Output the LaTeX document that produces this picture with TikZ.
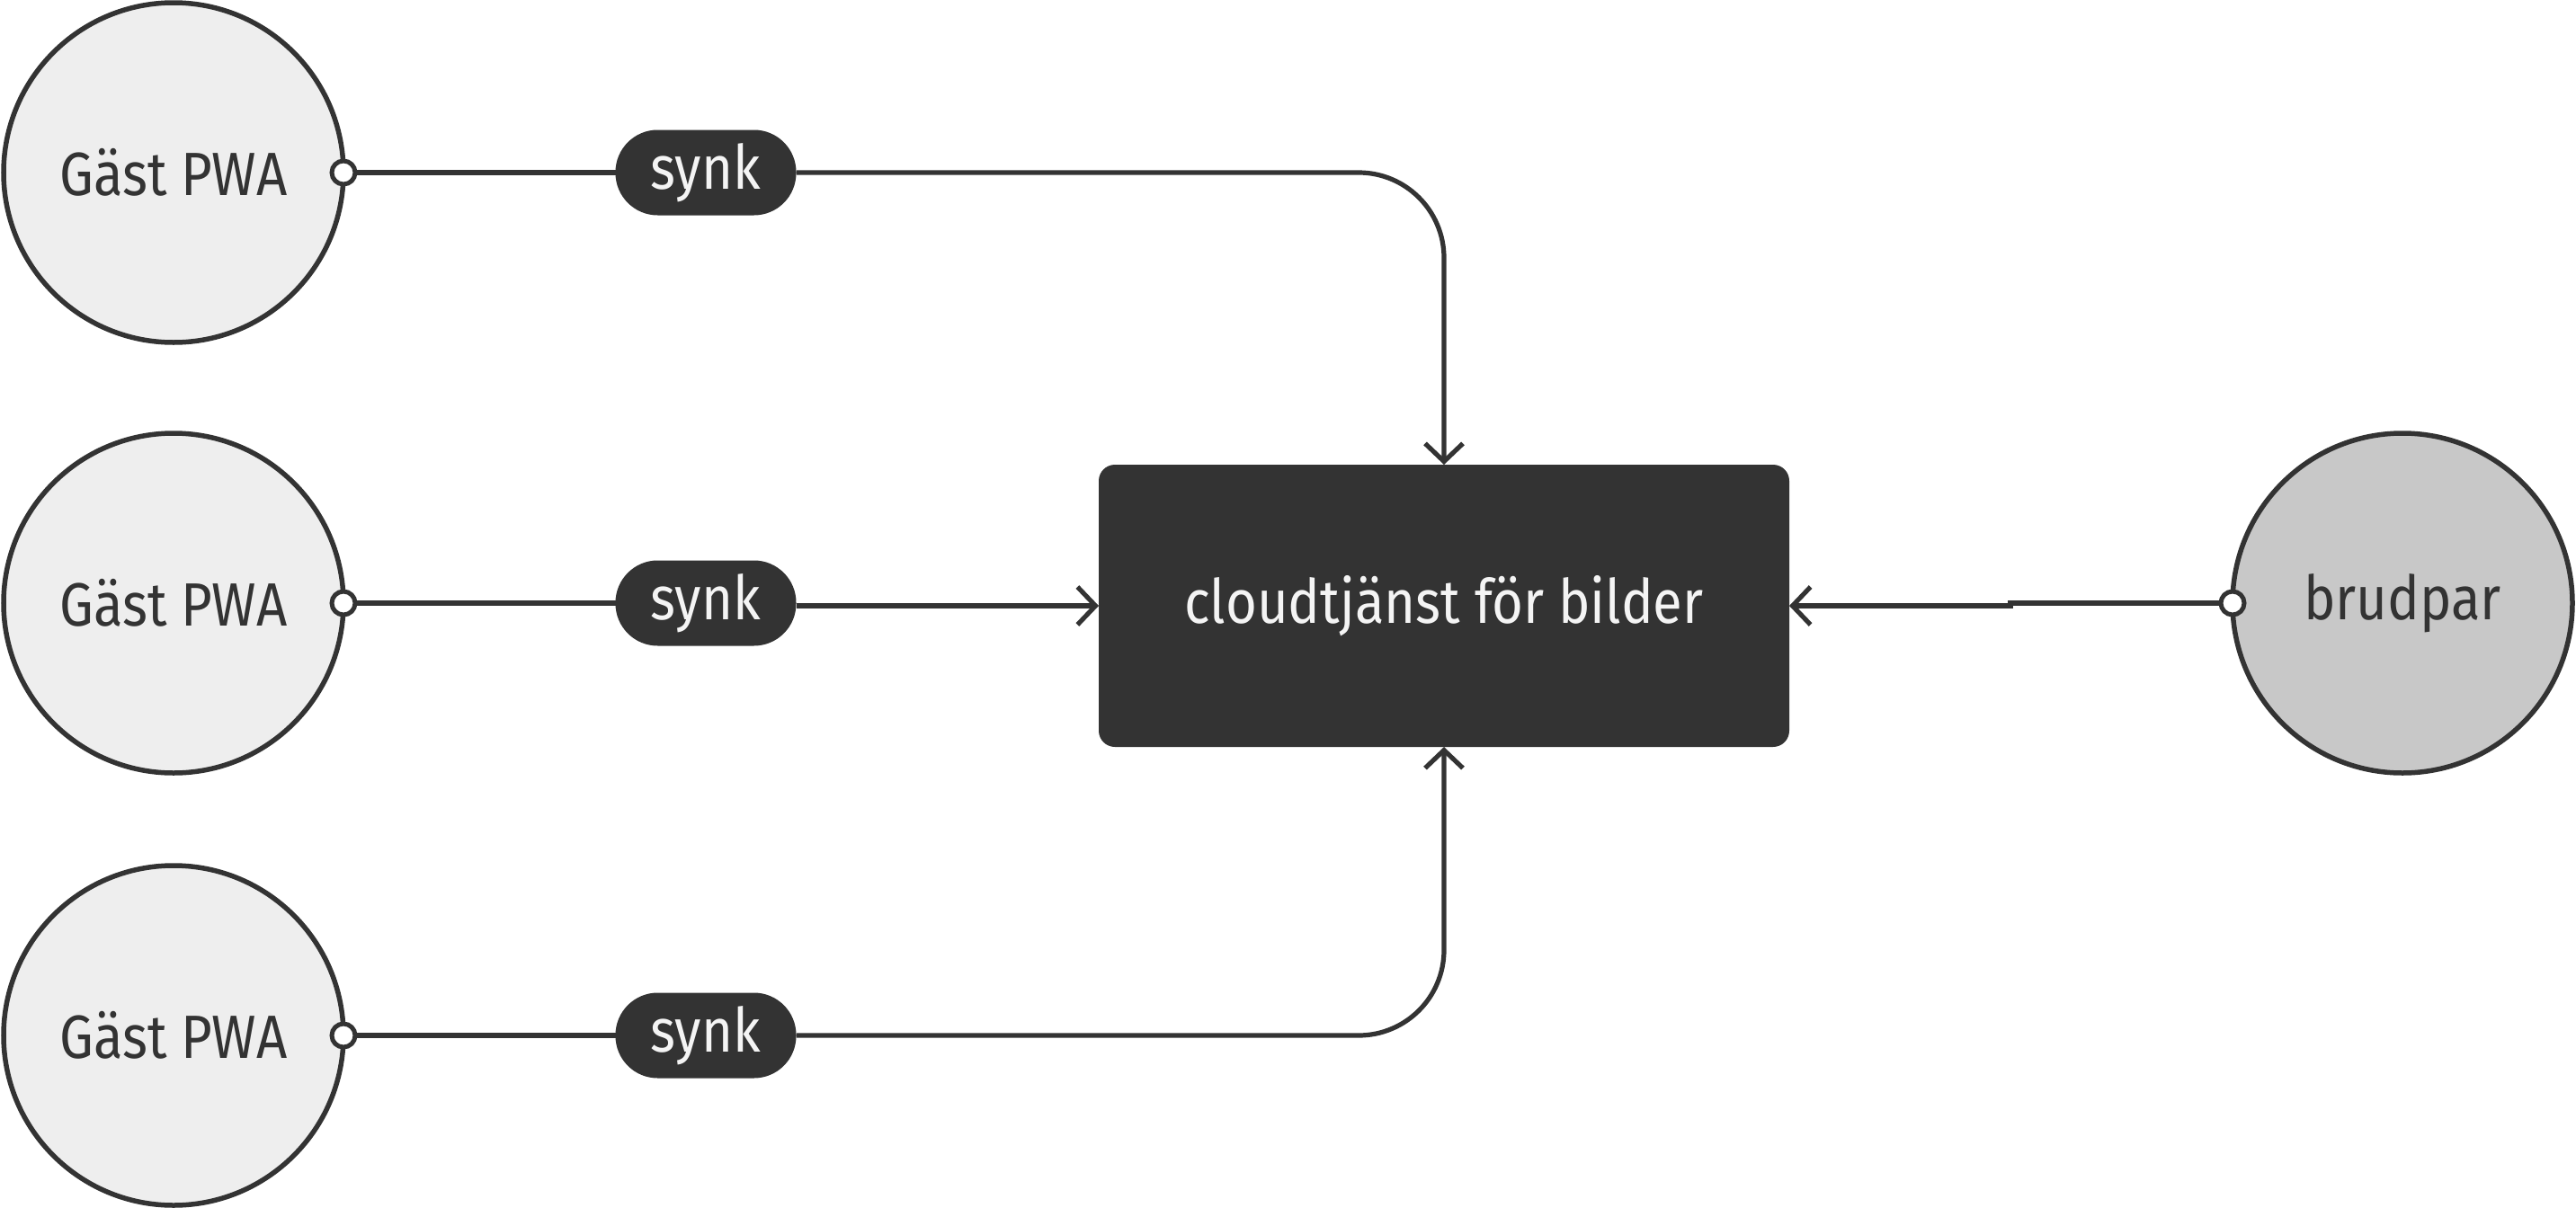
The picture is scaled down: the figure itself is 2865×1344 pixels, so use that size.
\documentclass[tikz,border=0pt]{standalone}
\usepackage{fontspec}
\setmainfont{Fira Sans}[FakeStretch=0.88]
\usetikzlibrary{arrows.meta}
\definecolor{dk}{HTML}{333333}
\definecolor{lt}{HTML}{EEEEEE}
\definecolor{md}{HTML}{C8C8C8}
\definecolor{wt}{HTML}{F4F4F4}
\begin{document}
\begin{tikzpicture}[x=0.5pt,y=-0.5pt,
  every node/.style={font=\fontsize{34}{40}\selectfont, inner sep=0pt, outer sep=0pt},
  actor/.style={circle, draw=dk, fill=lt, line width=2.75pt, minimum size=189pt, text=dk},
  couple/.style={actor, fill=md},
  dotc/.style={circle, draw=dk, fill=white, line width=2.5pt, minimum size=13pt},
  pill/.style={rectangle, rounded corners=23.5pt, fill=dk, minimum width=100.5pt, minimum height=47.5pt, text=wt},
  service/.style={rectangle, rounded corners=9pt, fill=dk, minimum width=384pt, minimum height=157pt, text=wt},
  conn/.style={draw=dk, line width=2.6pt},
  arr/.style={conn, -{Straight Barb[length=10pt,width=21pt]}}
]
\useasboundingbox (0,0) rectangle (2865,1344);

\node[actor] (g1) at (193,192) {Gäst PWA};
\node[actor] (g2) at (193,671) {Gäst PWA};
\node[actor] (g3) at (193,1152) {Gäst PWA};
\node[couple] (bp) at (2672,671) {brudpar};

\node[service] (cs) at (1606,674) {cloudtjänst för bilder};

\node[pill] (s1) at (785,192) {synk};
\node[pill] (s2) at (785,671) {synk};
\node[pill] (s3) at (785,1152) {synk};

% connectors
\draw[conn] (g1.east) -- (s1.west);
\draw[conn] (g2.east) -- (s2.west);
\draw[conn] (g3.east) -- (s3.west);
\draw[arr, rounded corners=47.5pt] (s1.east) -| (cs.north);
\draw[arr] (s2.east |- cs.west) -- (cs.west);
\draw[arr, rounded corners=47.5pt] (s3.east) -| (cs.south);
\coordinate (jog) at (2236,671);
\draw[arr] (bp.west) -- (jog) |- (cs.east);

\node[dotc] (d1) at (g1.east) {};
\node[dotc] (d2) at (g2.east) {};
\node[dotc] (d3) at (g3.east) {};
\node[dotc] (d4) at (bp.west) {};
\end{tikzpicture}
\end{document}
